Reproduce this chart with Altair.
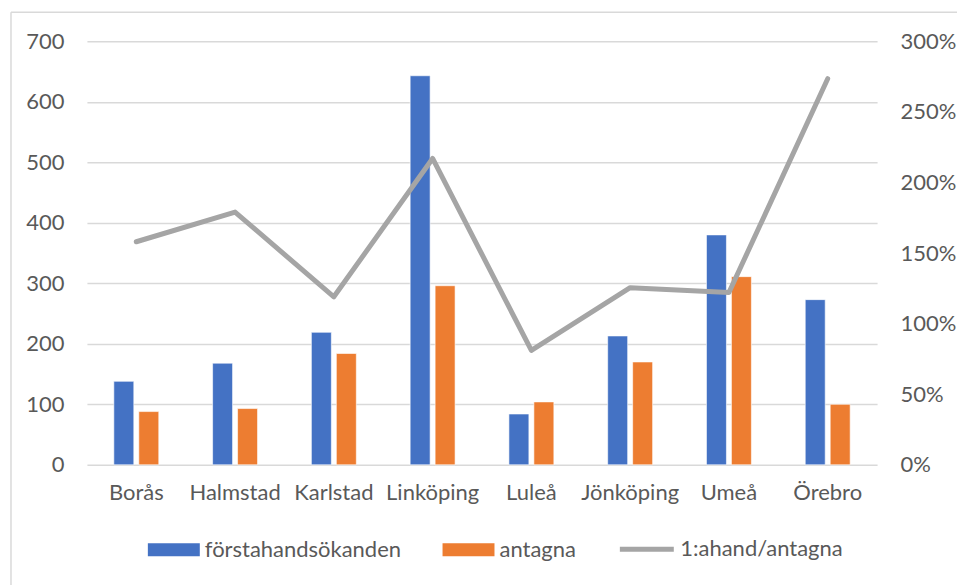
import altair as alt
import pandas as pd

# ---- data ----
cities = ["Borås", "Halmstad", "Karlstad", "Linköping", "Luleå", "Jönköping", "Umeå", "Örebro"]
forstahand = [138, 168, 219, 643, 84, 213, 380, 273]
antagna = [88, 93, 184, 296, 104, 170, 311, 100]
kvot = [1.58, 1.79, 1.19, 2.17, 0.81, 1.255, 1.22, 2.735]

series_names = ["förstahandsökanden", "antagna"]
line_name = "1:ahand/antagna"
left_ticks = [0, 100, 200, 300, 400, 500, 600, 700]
right_ticks = [0, 0.5, 1.0, 1.5, 2.0, 2.5, 3.0]

rows = []
for c, f, a in zip(cities, forstahand, antagna):
    rows.append({"stad": c, "serie": series_names[0], "antal": f})
    rows.append({"stad": c, "serie": series_names[1], "antal": a})
bars_df = pd.DataFrame(rows)
line_df = pd.DataFrame({"stad": cities, "kvot": kvot, "serie2": [line_name] * len(cities)})
border_df = pd.DataFrame({"k": [0]})

FONT = "Lato"
TEXT = "#595959"
GRID = "#D9D9D9"
FS = 22

x_enc = alt.X(
    "stad:N",
    sort=cities,
    scale=alt.Scale(paddingInner=0.545, paddingOuter=0.2725),
    axis=alt.Axis(title=None, labelAngle=0, labelFontSize=FS, labelColor=TEXT,
                  labelFont=FONT, labelPadding=18, ticks=False, domain=False, grid=False),
)

bars = alt.Chart(bars_df).mark_bar(stroke="white", strokeWidth=0.6).encode(
    x=x_enc,
    xOffset=alt.XOffset("serie:N", sort=series_names,
                        scale=alt.Scale(domain=series_names, paddingInner=0.2, paddingOuter=0)),
    y=alt.Y("antal:Q", scale=alt.Scale(domain=[0, 700], nice=False),
            axis=alt.Axis(title=None, values=left_ticks, labelFontSize=FS, labelColor=TEXT,
                          labelFont=FONT, labelPadding=23, ticks=False, domain=False,
                          grid=True, gridColor=GRID, gridWidth=1.5)),
    color=alt.Color("serie:N", sort=series_names,
                    scale=alt.Scale(domain=series_names, range=["#4472C4", "#ED7D31"]),
                    legend=alt.Legend(title=None, orient="none", legendX=61, legendY=483,
                                      direction="horizontal", symbolType="M-1,-0.25H1V0.25H-1Z",
                                      symbolSize=2704, symbolStrokeWidth=0, labelFontSize=FS,
                                      labelColor=TEXT, labelFont=FONT, labelOffset=5,
                                      labelLimit=500, columnPadding=41, padding=0)),
)

line = alt.Chart(line_df).mark_line(strokeWidth=5, strokeCap="round", strokeJoin="round").encode(
    x=x_enc,
    y=alt.Y("kvot:Q", scale=alt.Scale(domain=[0, 3], nice=False),
            axis=alt.Axis(title=None, orient="right", format=".0%", values=right_ticks,
                          labelFontSize=FS, labelColor=TEXT, labelFont=FONT, labelPadding=23,
                          ticks=False, domain=False, grid=False)),
    stroke=alt.Stroke("serie2:N", scale=alt.Scale(domain=[line_name], range=["#A5A5A5"]),
                      legend=alt.Legend(title=None, orient="none", legendX=531, legendY=479,
                                        symbolType="stroke", symbolSize=2916, symbolStrokeWidth=5,
                                        labelFontSize=FS, labelColor=TEXT, labelFont=FONT,
                                        labelOffset=4, labelLimit=500, padding=0)),
)

left_border = alt.Chart(border_df).mark_rule(color=GRID, strokeWidth=1.5).encode(
    x=alt.value(-76), y=alt.value(-29), y2=alt.value(560))
top_border = alt.Chart(border_df).mark_rule(color=GRID, strokeWidth=1.5).encode(
    x=alt.value(-76), x2=alt.value(900), y=alt.value(-29))

chart = alt.layer(left_border, top_border, bars, line).resolve_scale(
    y="independent"
).properties(
    width=791, height=424,
    padding={"left": 79, "top": 33, "right": 80, "bottom": 120},
    autosize=alt.AutoSizeParams(type="none"),
    background="white",
).configure_view(stroke=None)

chart.save("out.html", embed_options={"renderer": "svg", "actions": False})
